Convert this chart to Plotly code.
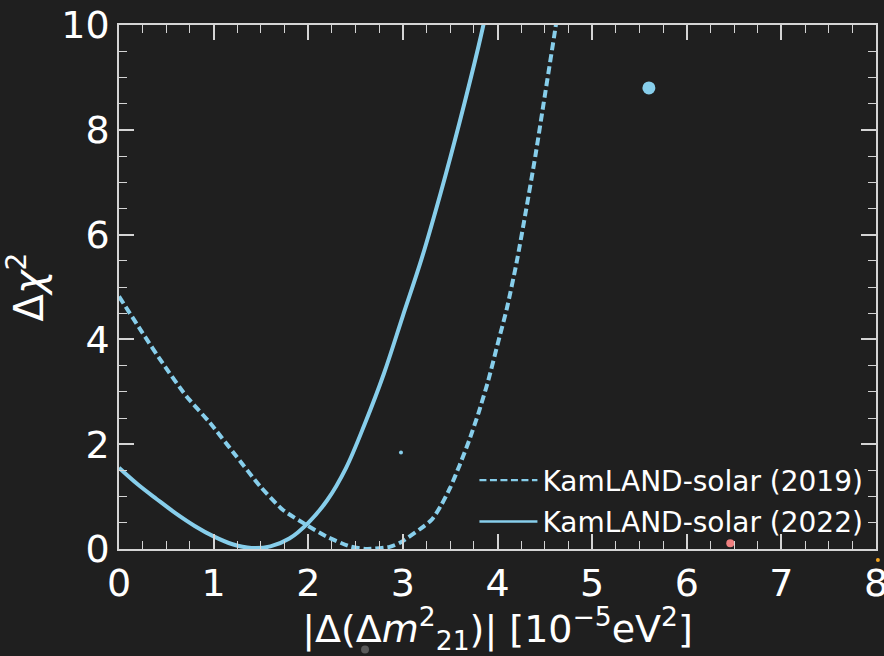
import plotly.graph_objects as go

# Data
x_2019 = [0.0, 0.25, 0.46, 0.71, 0.96, 1.24, 1.49, 1.73, 1.98, 2.19, 2.44, 2.62,
          2.86, 2.97, 3.3, 3.4, 3.5, 3.6, 3.7, 3.8, 3.9, 4.0, 4.1, 4.2, 4.3,
          4.4, 4.5, 4.6, 4.65]
y_2019 = [4.82, 4.12, 3.55, 2.92, 2.41, 1.77, 1.2, 0.75, 0.46, 0.24, 0.05, 0.0,
          0.04, 0.12, 0.55, 0.82, 1.17, 1.6, 2.07, 2.6, 3.2, 3.9, 4.6, 5.45, 6.45,
          7.5, 8.65, 9.8, 10.4]

x_2022 = [0.0, 0.2, 0.4, 0.6, 0.8, 1.0, 1.2, 1.4, 1.6, 1.8, 2.0, 2.2, 2.4, 2.6,
          2.8, 3.0, 3.2, 3.4, 3.6, 3.8, 3.9]
y_2022 = [1.55, 1.23, 0.95, 0.68, 0.44, 0.24, 0.09, 0.02, 0.05, 0.2, 0.5, 0.93,
          1.55, 2.4, 3.35, 4.45, 5.55, 6.8, 8.15, 9.6, 10.4]

# stray dots visible in the picture (inside the axes)
dot_x = [5.6, 2.98, 6.46]
dot_y = [8.8, 1.84, 0.11]
dot_size = [13, 4, 8]
dot_color = ["#87ceeb", "#87ceeb", "#f08080"]
# stray dots outside the axes
out_x = [2.6, 8.02]
out_y = [-1.92, -0.21]
out_size = [8, 4]
out_color = ["#5a5a5a", "#f5a623"]

labels = ["KamLAND-solar (2019)", "KamLAND-solar (2022)"]

X_RANGE = [0, 8]
Y_RANGE = [0, 10]

BG = "#1f1f1f"
LINE = "#87ceeb"
FRAME = "#d4d4d4"
FONT = "DejaVu Sans"

fig = go.Figure()
fig.add_trace(go.Scatter(x=x_2019, y=y_2019, mode="lines", showlegend=False,
                         line=dict(color=LINE, width=4, dash="8px,4px",
                                   shape="spline", smoothing=0.6)))
fig.add_trace(go.Scatter(x=x_2022, y=y_2022, mode="lines", showlegend=False,
                         line=dict(color=LINE, width=4, shape="spline", smoothing=1.0)))
# legend entries
fig.add_trace(go.Scatter(x=[None], y=[None], mode="lines", name=labels[0],
                         legendgroup="a",
                         line=dict(color=LINE, width=2.2, dash="7px,3.5px")))
fig.add_trace(go.Scatter(x=[None], y=[None], mode="lines", name=labels[1],
                         legendgroup="b",
                         line=dict(color=LINE, width=2.6)))
fig.add_trace(go.Scatter(x=dot_x, y=dot_y, mode="markers", showlegend=False,
                         cliponaxis=False,
                         marker=dict(size=dot_size, color=dot_color, opacity=1,
                                     line=dict(width=0))))

# dots lying outside the axes: drawn as unclipped shapes in axis-domain units
for xv, yv, sz, col in zip(out_x, out_y, out_size, out_color):
    fx = (xv - X_RANGE[0]) / (X_RANGE[1] - X_RANGE[0])
    fy = (yv - Y_RANGE[0]) / (Y_RANGE[1] - Y_RANGE[0])
    fig.add_shape(type="circle", xref="x domain", yref="y domain",
                  xsizemode="pixel", ysizemode="pixel",
                  xanchor=fx, yanchor=fy,
                  x0=-sz / 2, x1=sz / 2, y0=-sz / 2, y1=sz / 2,
                  fillcolor=col, line=dict(width=0), layer="above")

axis_common = dict(
    showgrid=False, zeroline=False, showline=True, mirror="allticks",
    linecolor=FRAME, linewidth=1.6,
    ticks="inside", ticklen=15, tickwidth=1.6, tickcolor=FRAME,
    tickfont=dict(family=FONT, size=38, color="white"),
    ticklabeloverflow="allow",
)

fig.update_xaxes(range=X_RANGE, dtick=1, tick0=0,
                 minor=dict(dtick=0.25, ticks="inside", ticklen=8, tickwidth=1.4,
                            tickcolor=FRAME, showgrid=False),
                 title=dict(text="|Δ(Δ<i>m</i><sup>2</sup><sub>21</sub>)| [10<sup>−5</sup>eV<sup>2</sup>]",
                            font=dict(family=FONT, size=38, color="white"), standoff=8),
                 **axis_common)
fig.update_yaxes(range=Y_RANGE, dtick=2, tick0=0,
                 minor=dict(dtick=0.5, ticks="inside", ticklen=8, tickwidth=1.4,
                            tickcolor=FRAME, showgrid=False),
                 title=dict(text="Δ<i>χ</i><sup>2</sup>",
                            font=dict(family=FONT, size=40, color="white"), standoff=12),
                 **axis_common)

fig.update_layout(
    width=884, height=656,
    margin=dict(l=119, r=8, t=25, b=107, autoexpand=False),
    paper_bgcolor=BG, plot_bgcolor=BG,
    font=dict(family=FONT, color="white"),
    legend=dict(x=0.99, y=0.005, xanchor="right", yanchor="bottom",
                bgcolor="rgba(0,0,0,0)", borderwidth=0,
                font=dict(family=FONT, size=28, color="white"),
                itemwidth=58, tracegroupgap=2),
)

fig.write_html("out.html")
